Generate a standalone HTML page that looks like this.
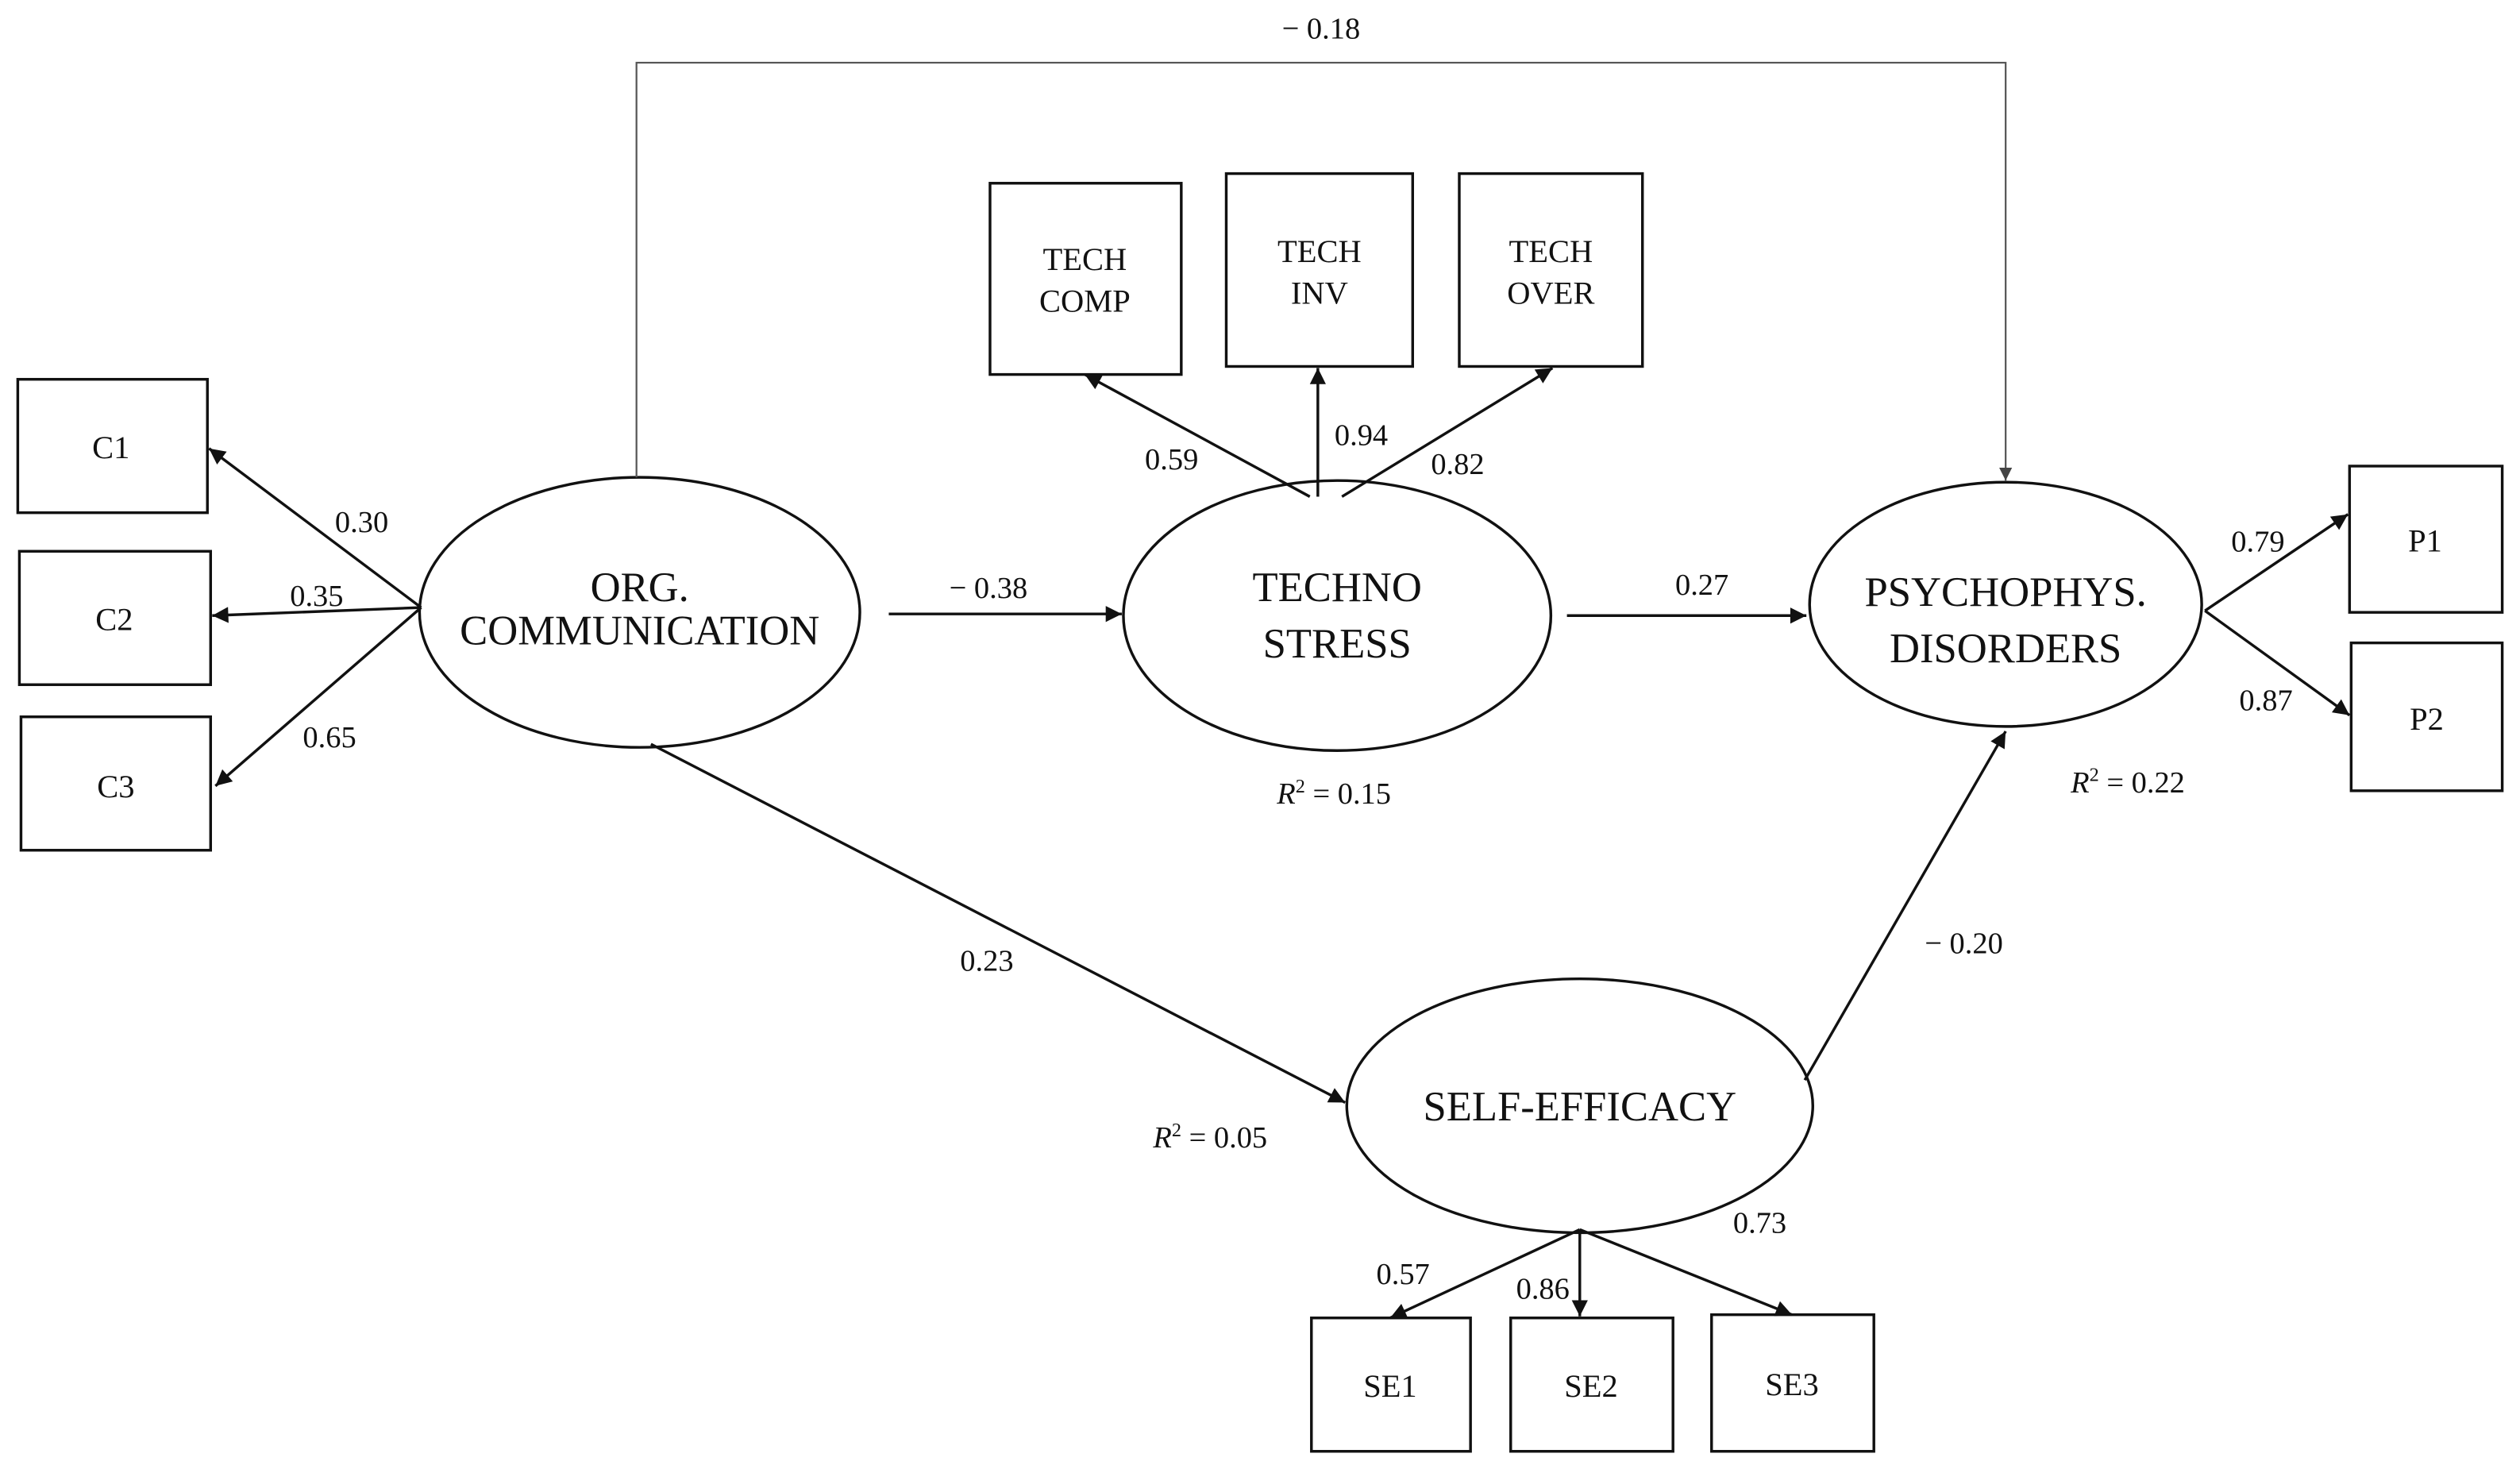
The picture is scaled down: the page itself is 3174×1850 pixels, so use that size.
<!DOCTYPE html>
<html><head><meta charset="utf-8"><style>
html,body{margin:0;padding:0;background:#fff;}
svg{display:block;}
text{font-family:"Liberation Serif",serif;fill:#111;}
</style></head><body>
<svg width="3174" height="1850" viewBox="0 0 1568 914" xmlns="http://www.w3.org/2000/svg">
<defs>
<marker id="a" viewBox="0 0 10 10" refX="10" refY="5" markerWidth="11" markerHeight="10" markerUnits="userSpaceOnUse" orient="auto"><path d="M0,0 L10,5 L0,10 z" fill="#111"/></marker>
<marker id="b" viewBox="0 0 10 10" refX="10" refY="5" markerWidth="8" markerHeight="8" markerUnits="userSpaceOnUse" orient="auto"><path d="M0,0 L10,5 L0,10 z" fill="#444"/></marker>
</defs>
<g fill="none" stroke="#111" stroke-width="1.7">
<rect x="11" y="236" width="118" height="83"/>
<rect x="12" y="343" width="119" height="83"/>
<rect x="13" y="446" width="118" height="83"/>
<rect x="616" y="114" width="119" height="119"/>
<rect x="763" y="108" width="116" height="120"/>
<rect x="908" y="108" width="114" height="120"/>
<rect x="1462" y="290" width="95" height="91"/>
<rect x="1463" y="400" width="94" height="92"/>
<rect x="816" y="820" width="99" height="83"/>
<rect x="940" y="820" width="101" height="83"/>
<rect x="1065" y="818" width="101" height="85"/>
<ellipse cx="398" cy="381" rx="137" ry="84"/>
<ellipse cx="832" cy="383" rx="133" ry="84"/>
<ellipse cx="1248" cy="376" rx="122" ry="76"/>
<ellipse cx="983" cy="688" rx="145" ry="79"/>
<line x1="262" y1="378" x2="130" y2="279" marker-end="url(#a)"/>
<line x1="262" y1="378" x2="132" y2="383" marker-end="url(#a)"/>
<line x1="262" y1="378" x2="134" y2="489" marker-end="url(#a)"/>
<line x1="553" y1="382" x2="698" y2="382" marker-end="url(#a)"/>
<line x1="975" y1="383" x2="1124" y2="383" marker-end="url(#a)"/>
<line x1="815" y1="309" x2="675" y2="233" marker-end="url(#a)"/>
<line x1="820" y1="309" x2="820" y2="229" marker-end="url(#a)"/>
<line x1="835" y1="309" x2="966" y2="229" marker-end="url(#a)"/>
<line x1="1372" y1="380" x2="1461" y2="320" marker-end="url(#a)"/>
<line x1="1372" y1="380" x2="1462" y2="445" marker-end="url(#a)"/>
<line x1="405" y1="463" x2="837" y2="686" marker-end="url(#a)"/>
<line x1="1123" y1="672" x2="1248" y2="455" marker-end="url(#a)"/>
<line x1="983" y1="765" x2="865" y2="820" marker-end="url(#a)"/>
<line x1="983" y1="765" x2="983" y2="819" marker-end="url(#a)"/>
<line x1="983" y1="765" x2="1115" y2="818" marker-end="url(#a)"/>
</g>
<polyline points="396,297 396,39 1248,39 1248,299" fill="none" stroke="#555" stroke-width="1.1" marker-end="url(#b)"/>
<g font-size="26" text-anchor="middle">
<text x="398" y="374">ORG.</text>
<text x="398" y="401">COMMUNICATION</text>
<text x="832" y="374">TECHNO</text>
<text x="832" y="409">STRESS</text>
<text x="1248" y="377">PSYCHOPHYS.</text>
<text x="1248" y="412">DISORDERS</text>
<text x="983" y="697">SELF-EFFICACY</text>
</g>
<g font-size="20" text-anchor="middle">
<text x="69" y="285">C1</text>
<text x="71" y="392">C2</text>
<text x="72" y="496">C3</text>
<text x="675" y="168">TECH</text>
<text x="675" y="194">COMP</text>
<text x="821" y="163">TECH</text>
<text x="821" y="189">INV</text>
<text x="965" y="163">TECH</text>
<text x="965" y="189">OVER</text>
<text x="1509" y="343">P1</text>
<text x="1510" y="454">P2</text>
<text x="865" y="869">SE1</text>
<text x="990" y="869">SE2</text>
<text x="1115" y="868">SE3</text>
</g>
<g font-size="19" text-anchor="middle">
<text x="225" y="331">0.30</text>
<text x="197" y="377">0.35</text>
<text x="205" y="465">0.65</text>
<text x="615" y="372">− 0.38</text>
<text x="1059" y="370">0.27</text>
<text x="729" y="292">0.59</text>
<text x="847" y="277">0.94</text>
<text x="907" y="295">0.82</text>
<text x="1405" y="343">0.79</text>
<text x="1410" y="442">0.87</text>
<text x="614" y="604">0.23</text>
<text x="1222" y="593">− 0.20</text>
<text x="873" y="799">0.57</text>
<text x="960" y="808">0.86</text>
<text x="1095" y="767">0.73</text>
<text x="822" y="24">− 0.18</text>
<text x="830" y="500"><tspan font-style="italic">R</tspan><tspan font-size="12" dy="-7">2</tspan><tspan dy="7"> = 0.15</tspan></text>
<text x="753" y="714"><tspan font-style="italic">R</tspan><tspan font-size="12" dy="-7">2</tspan><tspan dy="7"> = 0.05</tspan></text>
<text x="1324" y="493"><tspan font-style="italic">R</tspan><tspan font-size="12" dy="-7">2</tspan><tspan dy="7"> = 0.22</tspan></text>
</g>
</svg>
</body></html>
